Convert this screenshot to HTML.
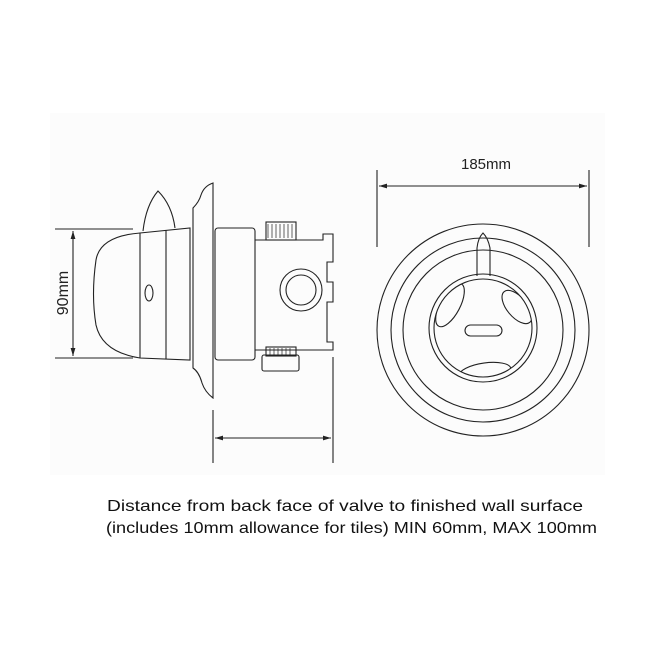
<!DOCTYPE html>
<html><head><meta charset="utf-8"><style>
html,body{margin:0;padding:0;background:#fff;}
svg{display:block;}
</style></head><body>
<svg width="650" height="650" viewBox="0 0 650 650" xmlns="http://www.w3.org/2000/svg">
<defs>
<marker id="a" viewBox="0 0 10 10" refX="10" refY="5" markerWidth="8" markerHeight="8" orient="auto-start-reverse" markerUnits="userSpaceOnUse"><path d="M0,2 L10,5 L0,8 z" fill="#222"/></marker>
<clipPath id="c"><circle cx="483" cy="328" r="49"/></clipPath>
</defs>
<rect x="50" y="113" width="555" height="362" fill="#fcfcfc"/>
<g fill="none" stroke="#222" stroke-width="1.1">
<line x1="55" y1="229" x2="133" y2="229"/>
<line x1="55" y1="358" x2="133" y2="358"/>
<line x1="73" y1="231" x2="73" y2="356" marker-start="url(#a)" marker-end="url(#a)"/>
<path d="M143,231 Q146,205 158,191 Q172,205 175,228"/>
<path d="M140,233 Q100,236 96,260 Q91,295 96,325 Q102,352 140,358"/>
<path d="M140,233 L190,228 L190,360 L140,358 Z"/>
<line x1="166" y1="230" x2="166" y2="359"/>
<ellipse cx="149" cy="293" rx="4" ry="8"/>
<path d="M213,183 L213,398 Q205,392 202,383 Q199,372 193,368 L193,208 Q199,202 201,195 Q204,186 213,183 Z"/>
<rect x="215" y="228" width="40" height="132" rx="3"/>
<path d="M255,240 L323,240 L323,234 L333,234 L333,262 L327,262 L327,282 L333,282 L333,302 L327,302 L327,342 L333,342 L333,350 L255,350"/>
<circle cx="301" cy="290" r="21"/>
<circle cx="301" cy="290" r="15"/>
<rect x="266" y="222" width="30" height="18"/>
<path d="M268,224 v14 M272,224 v14 M276,224 v14 M280,224 v14 M284,224 v14 M288,224 v14 M292,224 v14" stroke-width="0.7"/>
<rect x="266" y="347" width="30" height="9"/>
<path d="M270,348 v7 M274,348 v7 M278,348 v7 M282,348 v7 M286,348 v7 M290,348 v7" stroke-width="0.7"/>
<rect x="262" y="355" width="37" height="16" rx="2"/>
<line x1="213" y1="410" x2="213" y2="463"/>
<line x1="333" y1="357" x2="333" y2="463"/>
<line x1="215" y1="438" x2="331" y2="438" marker-start="url(#a)" marker-end="url(#a)"/>
<line x1="377" y1="170" x2="377" y2="247"/>
<line x1="589" y1="170" x2="589" y2="247"/>
<line x1="379" y1="186" x2="587" y2="186" marker-start="url(#a)" marker-end="url(#a)"/>
<circle cx="483" cy="330" r="106"/>
<circle cx="483" cy="330" r="92"/>
<circle cx="483" cy="330" r="80"/>
<circle cx="483" cy="328" r="54"/>
<circle cx="483" cy="328" r="49"/>
<path d="M477,276 L477,248 Q478,238 483,233 Q488,238 490,248 L490,276"/>
<rect x="465" y="325" width="37" height="11" rx="5.5"/>
<g clip-path="url(#c)">
<ellipse cx="450" cy="305" rx="24" ry="10" transform="rotate(-62 450 305)"/>
<ellipse cx="517" cy="307" rx="20" ry="10" transform="rotate(50 517 307)"/>
<ellipse cx="485" cy="372" rx="26" ry="9" transform="rotate(-8 485 372)"/>
</g>
</g>
<text x="0" y="0" transform="translate(68,293) rotate(-90)" text-anchor="middle" font-family="Liberation Sans, sans-serif" font-size="16" fill="#222">90mm</text>
<text x="486" y="169" text-anchor="middle" font-family="Liberation Sans, sans-serif" font-size="15" fill="#222">185mm</text>
<text x="107" y="511" font-family="Liberation Sans, sans-serif" font-size="16" fill="#111" textLength="476" lengthAdjust="spacingAndGlyphs">Distance from back face of valve to finished wall surface</text>
<text x="106" y="533" font-family="Liberation Sans, sans-serif" font-size="16" fill="#111" textLength="491" lengthAdjust="spacingAndGlyphs">(includes 10mm allowance for tiles) MIN 60mm, MAX 100mm</text>
</svg>
</body></html>
